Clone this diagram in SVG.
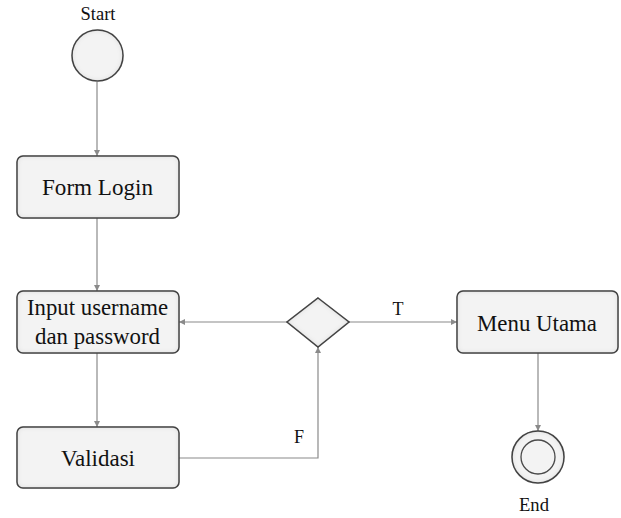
<svg xmlns="http://www.w3.org/2000/svg" width="621" height="518" viewBox="0 0 621 518">
<style>
.shape{fill:#f3f3f3;stroke:#4a4a4a;stroke-width:1.5;filter:url(#inner)}
.lbl{font-family:"Liberation Serif","Times New Roman",serif;font-size:24px;fill:#111;text-anchor:middle}
.small{font-family:"Liberation Serif","Times New Roman",serif;font-size:18px;fill:#111;text-anchor:middle}
.conn{fill:none;stroke:#8a8a8a;stroke-width:1.2}
</style>
<defs>
<filter id="inner" x="-10%" y="-10%" width="120%" height="120%">
<feGaussianBlur in="SourceAlpha" stdDeviation="2.5" result="b"/>
<feComposite in="SourceAlpha" in2="b" operator="out" result="edge"/>
<feFlood flood-color="#000" flood-opacity="0.35"/>
<feComposite in2="edge" operator="in" result="sh"/>
<feMerge><feMergeNode in="SourceGraphic"/><feMergeNode in="sh"/></feMerge>
</filter>
<marker id="arr" viewBox="0 0 8 8" refX="8" refY="4" markerWidth="6" markerHeight="6" orient="auto" markerUnits="userSpaceOnUse">
<path d="M0,0 L8,4 L0,8 z" fill="#8a8a8a"/>
</marker>
</defs>
<g id="connectors">
<line class="conn" x1="97" y1="82" x2="97" y2="156" marker-end="url(#arr)"/>
<line class="conn" x1="97" y1="218" x2="97" y2="291" marker-end="url(#arr)"/>
<line class="conn" x1="97" y1="353" x2="97" y2="427" marker-end="url(#arr)"/>
<polyline class="conn" points="179,458 318,458 318,347" marker-end="url(#arr)"/>
<line class="conn" x1="287" y1="322" x2="179" y2="322" marker-end="url(#arr)"/>
<line class="conn" x1="349" y1="322" x2="457" y2="322" marker-end="url(#arr)"/>
<line class="conn" x1="538" y1="353" x2="538" y2="431" marker-end="url(#arr)"/>
<text class="small" x="299" y="443">F</text>
<text class="small" x="398" y="315">T</text>
</g>
<g id="start">
<circle class="shape" cx="97.5" cy="55.5" r="25.5"/>
<text class="small" x="98" y="20" textLength="35" lengthAdjust="spacingAndGlyphs">Start</text>
</g>
<g id="formLogin">
<rect class="shape" x="17" y="156" width="162" height="62" rx="6"/>
<text class="lbl" x="97.5" y="195" textLength="111" lengthAdjust="spacingAndGlyphs">Form Login</text>
</g>
<g id="input">
<rect class="shape" x="17" y="291" width="162" height="62" rx="6"/>
<text class="lbl" x="97.5" y="315" textLength="141" lengthAdjust="spacingAndGlyphs">Input username</text>
<text class="lbl" x="97.5" y="344" textLength="125" lengthAdjust="spacingAndGlyphs">dan password</text>
</g>
<g id="validasi">
<rect class="shape" x="17" y="427" width="162" height="61" rx="6"/>
<text class="lbl" x="98" y="466" textLength="74" lengthAdjust="spacingAndGlyphs">Validasi</text>
</g>
<g id="decision">
<polygon class="shape" points="318,298 349,322 318,347 287,322"/>
</g>
<g id="menuUtama">
<rect class="shape" x="457" y="291" width="161" height="62" rx="6"/>
<text class="lbl" x="537" y="331" textLength="120" lengthAdjust="spacingAndGlyphs">Menu Utama</text>
</g>
<g id="end">
<circle class="shape" cx="538" cy="457" r="26"/>
<circle cx="538" cy="457" r="17" fill="none" stroke="#4a4a4a" stroke-width="1.3"/>
<text class="small" x="534" y="511" textLength="30" lengthAdjust="spacingAndGlyphs">End</text>
</g>
</svg>
